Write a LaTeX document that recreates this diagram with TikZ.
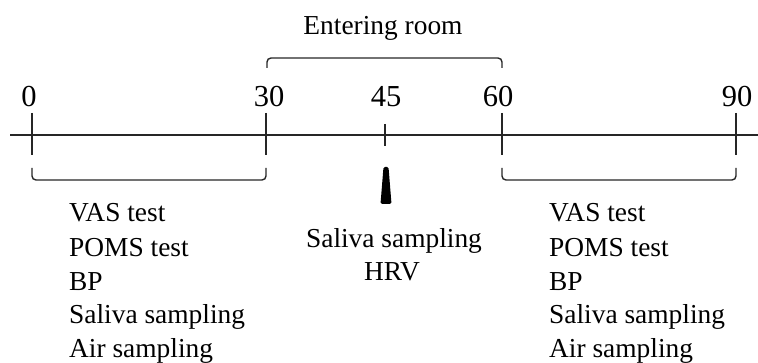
\documentclass[tikz,border=0pt]{standalone}
\usepackage{fontspec}
\setmainfont{Liberation Serif}
\begin{document}
\begin{tikzpicture}[x=1pt,y=1pt,
  axis/.style={draw=black!85, line width=1.6pt},
  tickmark/.style={draw=black!85, line width=1.5pt},
  brace/.style={draw=black!85, line width=1.4pt, rounded corners=4pt},
  lbl/.style={inner sep=0pt, font=\fontsize{27.4}{34}\selectfont, text=black},
  num/.style={inner sep=0pt, font=\fontsize{30.5}{34}\selectfont, text=black},
  marker/.style={fill=black, rounded corners=1.5pt},
]
\useasboundingbox (0,0) rectangle (758,362);

% time axis
\coordinate (axstart) at (10,227);
\coordinate (axend) at (758,227);
\draw[axis] (axstart) -- (axend);

% tick marks
\foreach \name/\x in {t0/32, t30/266, t60/502, t90/736} {
  \coordinate (\name top) at (\x,249);
  \coordinate (\name bot) at (\x,207);
  \draw[tickmark] (\name top) -- (\name bot);
}
\coordinate (t45top) at (385,238);
\coordinate (t45bot) at (385,216);
\draw[tickmark] (t45top) -- (t45bot);

% minute labels
\node[num, anchor=base] (n0)  at (29,255)  {0};
\node[num, anchor=base] (n30) at (269,255) {30};
\node[num, anchor=base] (n45) at (386,255) {45};
\node[num, anchor=base] (n60) at (498,255) {60};
\node[num, anchor=base] (n90) at (737,255) {90};

% bracket for the room period
\draw[brace] (267,294) -- (267,304) -- (502,304) -- (502,294);
\node[lbl, anchor=base] (room) at (383,327) {Entering room};

% brackets under the pre and post periods
\draw[brace] (32,194) -- (32,182) -- (266,182) -- (266,194);
\draw[brace] (502,194) -- (502,182) -- (736,182) -- (736,194);

% sampling marker at 45 min
\fill[marker] (380.5,158) -- (383.5,195) -- (388.5,195) -- (391.5,158) -- cycle;

% measurement lists
\foreach \side/\x in {pre/69, post/549} {
  \node[lbl, anchor=base west] (\side1) at (\x,140)  {VAS test};
  \node[lbl, anchor=base west] (\side2) at (\x,106)  {POMS test};
  \node[lbl, anchor=base west] (\side3) at (\x,72)   {BP};
  \node[lbl, anchor=base west] (\side4) at (\x,38.5) {Saliva sampling};
  \node[lbl, anchor=base west] (\side5) at (\x,5)    {Air sampling};
}
\node[lbl, anchor=base] (mid1) at (394,114) {Saliva sampling};
\node[lbl, anchor=base] (mid2) at (392,82)  {HRV};
\end{tikzpicture}
\end{document}
